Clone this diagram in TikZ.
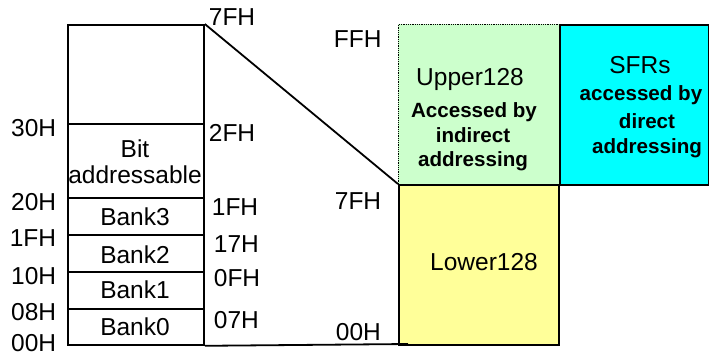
\documentclass[tikz,border=0pt]{standalone}
\usepackage{fontspec}
\setmainfont{Liberation Sans}
\definecolor{upperg}{HTML}{CCFFCC}
\definecolor{lowery}{HTML}{FFFF99}
\definecolor{sfrc}{HTML}{00FFFF}
\begin{document}
\begin{tikzpicture}[x=1pt,y=-1pt, line width=1.8pt,
  box/.style={draw, rectangle, inner sep=0pt, anchor=north west},
  lbl/.style={font=\fontsize{24.5}{28}\selectfont, inner sep=0pt},
  bld/.style={font=\bfseries\fontsize{20.6}{24}\selectfont, inner sep=0pt}]
\useasboundingbox (0,0) rectangle (709,356);
% left memory map
\node[box, minimum width=136pt, minimum height=99pt] (gen) at (67,24) {};
\node[box, minimum width=136pt, minimum height=74pt] (bit) at (67,123) {};
\node[box, minimum width=136pt, minimum height=37pt] (bank3) at (67,197) {};
\node[box, minimum width=136pt, minimum height=37pt] (bank2) at (67,234) {};
\node[box, minimum width=136pt, minimum height=37pt] (bank1) at (67,271) {};
\node[box, minimum width=136pt, minimum height=36pt] (bank0) at (67,308) {};
% right blocks
\node[box, fill=upperg, densely dotted, line width=0.8pt, minimum width=161pt, minimum height=160pt] (upper) at (398,24) {};
\node[box, fill=sfrc, minimum width=149pt, minimum height=160pt] (sfr) at (559,24) {};
\node[box, fill=lowery, minimum width=160pt, minimum height=160pt] (lower) at (398,184) {};
% connectors
\draw (gen.north east) -- (lower.north west);
\coordinate (bend) at (408,344);
\draw (bank0.south east) -- (bend);
% texts in boxes
\node[lbl, anchor=base] (tbit) at (135,157) {Bit};
\node[lbl, anchor=base] (taddr) at (135,183) {addressable};
\node[lbl, anchor=base] (tb3) at (135,225) {Bank3};
\node[lbl, anchor=base] (tb2) at (135,263) {Bank2};
\node[lbl, anchor=base] (tb1) at (135,298) {Bank1};
\node[lbl, anchor=base] (tb0) at (135,335) {Bank0};
\node[lbl, anchor=base] (tup) at (470,85) {Upper128};
\node[bld, anchor=base] (tup1) at (474,117) {Accessed by};
\node[bld, anchor=base] (tup2) at (473,142) {indirect};
\node[bld, anchor=base] (tup3) at (473,166) {addressing};
\node[lbl, anchor=base] (tsfr) at (640,73) {SFRs};
\node[bld, anchor=base] (tsfr1) at (641,100) {accessed by};
\node[bld, anchor=base] (tsfr2) at (647,128) {direct};
\node[bld, anchor=base] (tsfr3) at (647,153) {addressing};
\node[lbl, anchor=base] (tlow) at (484,270) {Lower128};
% left address labels
\node[lbl, anchor=base east] (l30) at (57,136.6) {30H};
\node[lbl, anchor=base east] (l20) at (57,210.6) {20H};
\node[lbl, anchor=base east] (l1f) at (57,246.6) {1FH};
\node[lbl, anchor=base east] (l10) at (57,284.6) {10H};
\node[lbl, anchor=base east] (l08) at (57,320.6) {08H};
\node[lbl, anchor=base east] (l00) at (57,351.6) {00H};
% middle address labels
\node[lbl, anchor=base west] (m7f) at (208,25.6) {7FH};
\node[lbl, anchor=base west] (m2f) at (208,141.6) {2FH};
\node[lbl, anchor=base west] (m1f) at (211,215.6) {1FH};
\node[lbl, anchor=base west] (m17) at (213,252.6) {17H};
\node[lbl, anchor=base west] (m0f) at (213,286.6) {0FH};
\node[lbl, anchor=base west] (m07) at (213,328.6) {07H};
% right address labels
\node[lbl, anchor=base west] (rff) at (333,47.6) {FFH};
\node[lbl, anchor=base west] (r7f) at (334,209.6) {7FH};
\node[lbl, anchor=base west] (r00) at (335,340.6) {00H};
\end{tikzpicture}
\end{document}
